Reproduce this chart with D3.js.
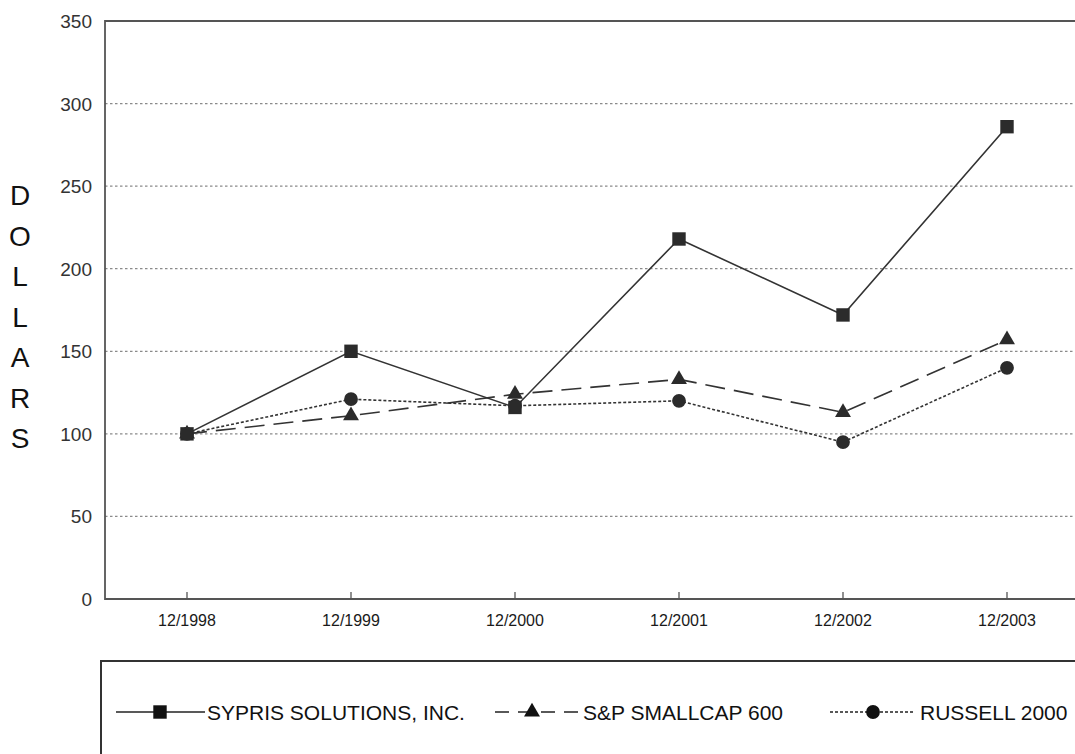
<!DOCTYPE html>
<html>
<head>
<meta charset="utf-8">
<script src="https://cdn.jsdelivr.net/npm/d3@7"></script>
<style>
  body { margin: 0; background: #fff; }
  svg { display: block; font-family: "Liberation Sans", Arial, Helvetica, sans-serif; }
</style>
</head>
<body>
<div id="chart"></div>
<script>
// 年份与各系列数值
const years = ['12/1998', '12/1999', '12/2000', '12/2001', '12/2002', '12/2003'];
const sypris = [100, 150, 116, 218, 172, 286];
const smallcap = [100, 111, 124, 133, 113, 157];
const russell = [100, 121, 117, 120, 95, 140];
const yTicks = [0, 50, 100, 150, 200, 250, 300, 350];
const seriesNames = ['SYPRIS SOLUTIONS, INC.', 'S&P SMALLCAP 600', 'RUSSELL 2000'];

const width = 1075;
const height = 754;

const svg = d3.select('#chart')
  .append('svg')
  .attr('width', width)
  .attr('height', height);

// 比例尺
const x = d3.scalePoint()
  .domain(years)
  .range([187, 1007]);

const y = d3.scaleLinear()
  .domain([0, 350])
  .range([599, 21]);

const plotLeft = 105;
const plotRight = 1100;

// 网格线
svg.append('g')
  .selectAll('line')
  .data(yTicks.filter(d => d > 0 && d < 350))
  .join('line')
  .attr('x1', plotLeft)
  .attr('x2', plotRight)
  .attr('y1', d => y(d))
  .attr('y2', d => y(d))
  .attr('stroke', '#8a8a8a')
  .attr('stroke-width', 1.2)
  .attr('stroke-dasharray', '2.5,2.5');

// 外框（左、上、下）
svg.append('path')
  .attr('d', `M${plotRight},${y(350)}H${plotLeft}V${y(0)}H${plotRight}`)
  .attr('fill', 'none')
  .attr('stroke', '#555')
  .attr('stroke-width', 1.8);

// x 轴刻度
svg.append('g')
  .selectAll('line')
  .data(years)
  .join('line')
  .attr('x1', d => x(d))
  .attr('x2', d => x(d))
  .attr('y1', y(0))
  .attr('y2', y(0) - 7)
  .attr('stroke', '#555')
  .attr('stroke-width', 1.3);

svg.append('g')
  .selectAll('text')
  .data(years)
  .join('text')
  .attr('x', d => x(d))
  .attr('y', 626)
  .attr('text-anchor', 'middle')
  .attr('font-size', 16)
  .attr('fill', '#1a1a1a')
  .text(d => d);

// y 轴标签
svg.append('g')
  .selectAll('text')
  .data(yTicks)
  .join('text')
  .attr('x', 92)
  .attr('y', d => y(d) + 7)
  .attr('text-anchor', 'end')
  .attr('font-size', 19)
  .attr('fill', '#333')
  .text(d => d);

// 竖排 DOLLARS
svg.append('g')
  .selectAll('text')
  .data('DOLLARS'.split(''))
  .join('text')
  .attr('x', 20)
  .attr('y', (d, i) => 205 + i * 40.5)
  .attr('text-anchor', 'middle')
  .attr('font-size', 28)
  .attr('fill', '#111')
  .text(d => d);

// 折线
const line = d3.line()
  .x((d, i) => x(years[i]))
  .y(d => y(d));

const styles = [
  { data: sypris, dash: null, shape: d3.symbolSquare, size: 180 },
  { data: smallcap, dash: '20,9', shape: d3.symbolTriangle, size: 110 },
  { data: russell, dash: '3,2', shape: d3.symbolCircle, size: 150 }
];

styles.forEach(s => {
  svg.append('path')
    .datum(s.data)
    .attr('d', line)
    .attr('fill', 'none')
    .attr('stroke', '#333')
    .attr('stroke-width', 1.6)
    .attr('stroke-dasharray', s.dash);
});

styles.forEach(s => {
  svg.append('g')
    .selectAll('path')
    .data(s.data)
    .join('path')
    .attr('transform', (d, i) => `translate(${x(years[i])},${y(d)})`)
    .attr('d', d3.symbol().type(s.shape).size(s.size))
    .attr('fill', '#2b2b2b');
});

// 图例框
svg.append('rect')
  .attr('x', 101)
  .attr('y', 661)
  .attr('width', 1100)
  .attr('height', 200)
  .attr('fill', 'none')
  .attr('stroke', '#333')
  .attr('stroke-width', 2);

const legendY = 712;
const legendItems = [
  { x1: 116, x2: 205, mx: 160, tx: 207 },
  { x1: 495, x2: 578, mx: 532, tx: 583 },
  { x1: 830, x2: 915, mx: 873, tx: 920 }
];

legendItems.forEach((l, i) => {
  const s = styles[i];
  svg.append('line')
    .attr('x1', l.x1)
    .attr('x2', l.x2)
    .attr('y1', legendY)
    .attr('y2', legendY)
    .attr('stroke', '#222')
    .attr('stroke-width', 1.6)
    .attr('stroke-dasharray', i === 1 ? '14,9' : s.dash);
  svg.append('path')
    .attr('transform', `translate(${l.mx},${legendY})`)
    .attr('d', d3.symbol().type(s.shape).size(s.size))
    .attr('fill', '#111');
  svg.append('text')
    .attr('x', l.tx)
    .attr('y', legendY + 7.5)
    .attr('font-size', 21)
    .attr('fill', '#111')
    .text(seriesNames[i]);
});
</script>
</body>
</html>
